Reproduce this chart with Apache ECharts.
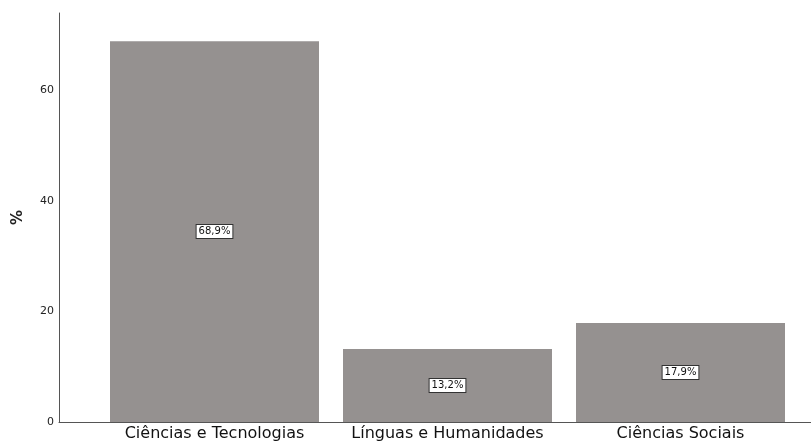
<!DOCTYPE html>
<html>
<head>
<meta charset="utf-8">
<script src="https://cdn.jsdelivr.net/npm/echarts@6/dist/echarts.min.js"></script>
<style>
  html, body { margin: 0; padding: 0; background: #fff; }
  #chart { width: 811px; height: 443px; }
</style>
</head>
<body>
<div id="chart"></div>
<script>
  // areas and share of students (%)
  var categories = ['Ciências e Tecnologias', 'Línguas e Humanidades', 'Ciências Sociais']
  var percents = [68.9, 13.2, 17.9]
  var yTicks = [0, 20, 40, 60]

  var chart = echarts.init(document.getElementById('chart'))
  var axisColor = '#555'

  chart.setOption({
    animation: false,
    textStyle: { fontFamily: 'DejaVu Sans' },
    grid: [
      { left: 98, width: 699, top: 13, bottom: 21 },
      { left: 59, right: 0, top: 13, bottom: 21 } // full width baseline only
    ],
    xAxis: [
      {
        type: 'category',
        gridIndex: 0,
        data: categories,
        axisLine: { show: false },
        axisTick: { show: false },
        axisLabel: { color: '#111', fontSize: 16, margin: 4, interval: 0, hideOverlap: false }
      },
      {
        type: 'value',
        gridIndex: 1,
        axisLine: { show: true, lineStyle: { color: axisColor, width: 1 } },
        axisTick: { show: false },
        axisLabel: { show: false },
        splitLine: { show: false }
      }
    ],
    yAxis: [
      {
        type: 'value',
        gridIndex: 0,
        min: 0,
        max: 74,
        interval: 20,
        offset: 39,
        name: '%',
        nameLocation: 'middle',
        nameGap: 33,
        nameRotate: 90,
        nameTextStyle: { fontSize: 15, fontWeight: 'bold', color: '#222' },
        axisLine: { show: true, lineStyle: { color: axisColor, width: 1 } },
        axisTick: { show: false },
        axisLabel: {
          color: '#222', fontSize: 11, margin: 5,
          formatter: function (v) { return yTicks.indexOf(v) >= 0 ? v : '' }
        },
        splitLine: { show: false }
      },
      {
        type: 'value',
        gridIndex: 1,
        show: false
      }
    ],
    series: [
      {
        type: 'bar',
        xAxisIndex: 0,
        yAxisIndex: 0,
        data: percents,
        barCategoryGap: '10.3%',
        itemStyle: { color: '#959190' },
        label: {
          show: true,
          position: 'inside',
          formatter: function (p) { return String(p.value).replace('.', ',') + '%' },
          color: '#111',
          fontSize: 10,
          backgroundColor: '#fff',
          borderColor: '#333',
          borderWidth: 1,
          padding: [2, 2, 1, 2]
        }
      }
    ]
  })
</script>
</body>
</html>
